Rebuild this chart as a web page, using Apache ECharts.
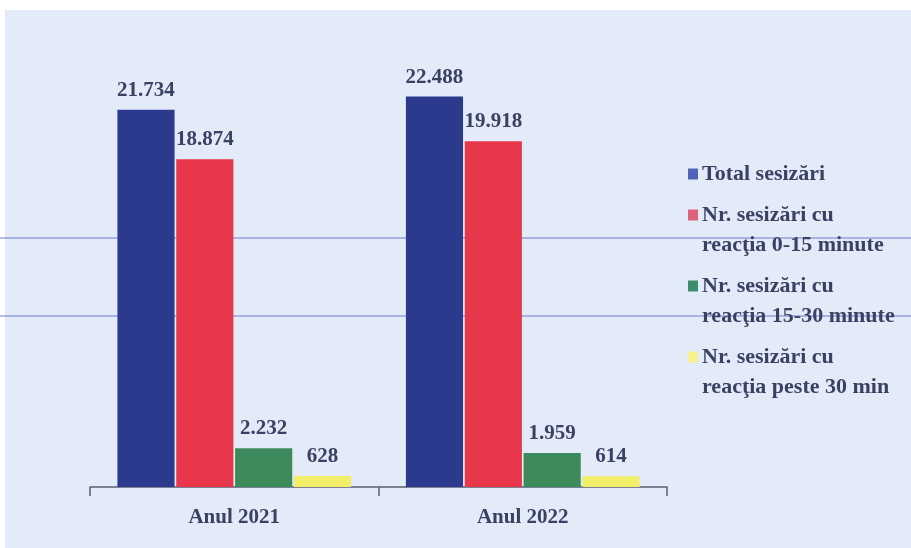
<!DOCTYPE html>
<html>
<head>
<meta charset="utf-8">
<script src="https://cdn.jsdelivr.net/npm/echarts@6/dist/echarts.min.js"></script>
<style>html,body{margin:0;padding:0;background:#fff;}#c{width:911px;height:548px;}</style>
</head>
<body>
<div id="c"></div>
<script>
var categories = ['Anul 2021', 'Anul 2022'];
var seriesNames = ['Total sesizări', 'Nr. sesizări cu\nreacţia 0-15 minute', 'Nr. sesizări cu\nreacţia 15-30 minute', 'Nr. sesizări cu\nreacţia peste 30 min'];
var totalSesizari = [21734, 22488];
var reactie0_15 = [18874, 19918];
var reactie15_30 = [2232, 1959];
var reactiePeste30 = [628, 614];
var barColors = ['#2c3a8e', '#e8364b', '#3d8a5c', '#f2ee6a'];
var iconColors = ['#5163b8', '#e0607c', '#3c8c6e', '#f6f08e'];

function fmt(v) { return String(v).replace(/\B(?=(\d{3})+(?!\d))/g, '.'); }

var values = [totalSesizari, reactie0_15, reactie15_30, reactiePeste30];
var font = 'Liberation Serif';
var textColor = '#3b4163';
var series = values.map(function (arr, i) {
  return {
    name: seriesNames[i],
    type: 'bar',
    data: arr,
    barGap: '3%',
    barCategoryGap: '19%',
    itemStyle: { color: barColors[i] },
    label: {
      show: true, position: 'top', distance: 9,
      formatter: function (p) { return fmt(p.value); },
      fontFamily: font, fontWeight: 'bold', fontSize: 21, color: textColor
    }
  };
});

var rich = {
  t: { fontFamily: font, fontWeight: 'bold', fontSize: 22, color: textColor, lineHeight: 30 },
  g: { width: 4, height: 10 },
  p: { width: 14, height: 10 }
};
iconColors.forEach(function (c, i) { rich['s' + i] = { width: 10, height: 11, backgroundColor: c }; });

var chart = echarts.init(document.getElementById('c'));
chart.setOption({
  backgroundColor: '#fff',
  animation: false,
  color: iconColors,
  graphic: [
    { type: 'rect', shape: { x: 5, y: 10, width: 906, height: 538 }, style: { fill: '#e3eaf8' }, z: -10 },
    { type: 'line', shape: { x1: 0, y1: 238, x2: 911, y2: 238 }, style: { stroke: '#6f7cc8', lineWidth: 1 }, z: -5 },
    { type: 'line', shape: { x1: 0, y1: 316, x2: 911, y2: 316 }, style: { stroke: '#6f7cc8', lineWidth: 1 }, z: -5 }
  ],
  grid: { left: 90, right: 244, top: 53, bottom: 61 },
  legend: {
    orient: 'vertical', left: 678, top: 154,
    itemWidth: 0, itemHeight: 10, itemGap: 11,
    icon: 'none',
    selectedMode: false,
    formatter: function (name) {
      var i = seriesNames.indexOf(name);
      var lines = name.split('\n');
      return lines.map(function (l, k) {
        return (k === 0 ? '{s' + i + '|}{g|}' : '{p|}') + '{t|' + l + '}';
      }).join('\n');
    },
    textStyle: { fontFamily: font, fontWeight: 'bold', fontSize: 22, color: textColor, lineHeight: 30, rich: rich },
    data: seriesNames
  },
  xAxis: {
    type: 'category', data: categories,
    axisLine: { lineStyle: { color: '#5a5f70', width: 1.5 } },
    axisTick: { show: true, length: 9, lineStyle: { color: '#5a5f70', width: 1.5 } },
    axisLabel: { fontFamily: font, fontWeight: 'bold', fontSize: 21, color: textColor, margin: 20 }
  },
  yAxis: {
    type: 'value', min: 0, max: 25000, show: false,
    splitLine: { show: false }
  },
  series: series
});
</script>
</body>
</html>
